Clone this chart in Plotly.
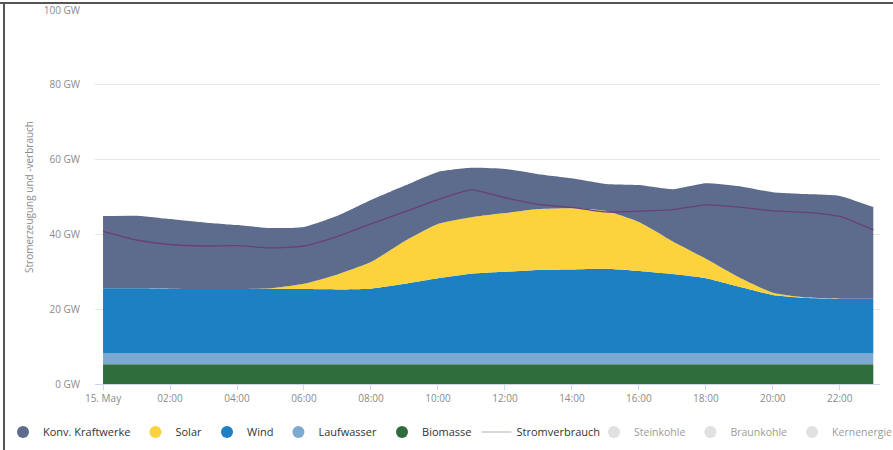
import plotly.graph_objects as go

hours = list(range(24))
tick_vals = [0, 2, 4, 6, 8, 10, 12, 14, 16, 18, 20, 22]
tick_text = ["15. May", "02:00", "04:00", "06:00", "08:00", "10:00",
             "12:00", "14:00", "16:00", "18:00", "20:00", "22:00"]
y_tick_vals = [0, 20, 40, 60, 80, 100]
y_tick_text = ["0 GW", "20 GW", "40 GW", "60 GW", "80 GW", "100 GW"]

biomasse = [5.3, 5.3, 5.3, 5.3, 5.3, 5.3, 5.3, 5.3, 5.3, 5.3, 5.3, 5.3,
            5.3, 5.3, 5.3, 5.3, 5.3, 5.3, 5.3, 5.3, 5.3, 5.3, 5.3, 5.3]
laufwasser = [3.0, 3.0, 3.0, 3.0, 3.0, 3.0, 3.0, 3.0, 3.0, 3.0, 3.0, 3.0,
              3.0, 3.0, 3.0, 3.0, 3.0, 3.0, 3.0, 3.0, 3.0, 3.0, 3.0, 3.0]
wind = [17.3, 17.3, 17.2, 17.1, 17.1, 17.2, 17.1, 17.0, 17.2, 18.5, 20.0, 21.2,
        21.7, 22.2, 22.3, 22.5, 21.9, 21.1, 20.0, 17.7, 15.5, 14.7, 14.5, 14.5]
solar = [0, 0, 0, 0, 0, 0.1, 1.4, 4.0, 7.1, 11.4, 14.5, 15.1,
         15.7, 16.3, 16.4, 15.5, 13.1, 8.8, 5.2, 2.5, 0.6, 0.1, 0, 0]
konv = [19.3, 19.4, 18.6, 17.8, 17.1, 16.1, 15.2, 15.7, 16.6, 14.8, 13.9, 13.2,
        11.8, 9.3, 8.0, 7.2, 9.9, 13.9, 20.2, 24.4, 26.9, 27.7, 27.5, 24.5]
verbrauch = [40.8, 38.5, 37.3, 36.9, 37.0, 36.4, 36.9, 39.5, 42.8, 46.0, 49.3, 51.9,
             49.8, 48.0, 47.2, 46.0, 46.2, 46.6, 47.9, 47.3, 46.3, 45.9, 44.8, 41.2]

series = [
    ("Biomasse", biomasse, "#2f6d3d"),
    ("Laufwasser", laufwasser, "#7ca9d1"),
    ("Wind", wind, "#1d80c3"),
    ("Solar", solar, "#fcd33c"),
    ("Konv. Kraftwerke", konv, "#5d6c8d"),
]
legend_order = ["Konv. Kraftwerke", "Solar", "Wind", "Laufwasser", "Biomasse"]
inactive = ["Steinkohle", "Braunkohle", "Kernenergie"]

FONT = "Open Sans"
fig = go.Figure()

for name, vals, color in series:
    fig.add_trace(go.Scatter(
        x=hours, y=vals, name=name, stackgroup="gen", mode="lines",
        line=dict(width=0, color=color, shape="spline", smoothing=0.5),
        fillcolor=color, showlegend=False, hoverinfo="skip"))

fig.add_trace(go.Scatter(
    x=hours, y=verbrauch, name="Stromverbrauch", mode="lines",
    line=dict(color="#6b3f78", width=1.3, shape="spline", smoothing=0.5),
    showlegend=False))

colors = {n: c for n, _, c in series}
for i, name in enumerate(legend_order):
    fig.add_trace(go.Scatter(
        x=[None], y=[None], name=name, mode="markers",
        marker=dict(symbol="circle", size=12, color=colors[name]),
        legendrank=i + 1, legend="legend"))
fig.add_trace(go.Scatter(
    x=[None], y=[None], name="Stromverbrauch", mode="lines",
    line=dict(color="#b9aac0", width=1.2), legendrank=6, legend="legend"))
for i, name in enumerate(inactive):
    fig.add_trace(go.Scatter(
        x=[None], y=[None], name=name, mode="markers",
        marker=dict(symbol="circle", size=12, color="#c4c4c4"),
        visible="legendonly", legendrank=7 + i, legend="legend2"))

L, R, T, B = 95, 13, 10, 66
W, H = 893, 450
pw, ph = W - L - R, H - T - B


def px(x):
    return (x - L) / pw


def py(y):
    return (H - B - y) / ph


legend_common = dict(orientation="h", xanchor="left", yanchor="middle", y=py(432),
                     itemwidth=30, traceorder="normal", bgcolor="rgba(0,0,0,0)")

fig.update_layout(
    width=W, height=H,
    margin=dict(l=L, r=R, t=T, b=B, pad=0, autoexpand=False),
    paper_bgcolor="white", plot_bgcolor="white",
    font=dict(family=FONT, size=11, color="#333333"),
    showlegend=True,
    legend=dict(x=px(3), font=dict(family=FONT, size=11, color="#333333"), **legend_common),
    legend2=dict(x=px(594), font=dict(family=FONT, size=10.5, color="#333333"), **legend_common),
    xaxis=dict(range=[-0.24, 23.2], tickmode="array", tickvals=tick_vals, ticktext=tick_text,
               showgrid=False, zeroline=False, showline=True, linecolor="#ccd6eb", linewidth=1,
               ticks="outside", ticklen=5, tickcolor="#ccd6eb", automargin=False,
               tickfont=dict(family=FONT, size=10, color="#8a8a8a")),
    yaxis=dict(range=[0, 100], tickmode="array", tickvals=y_tick_vals, ticktext=y_tick_text,
               showgrid=True, gridcolor="#e6e6e6", gridwidth=1, automargin=False,
               zeroline=False, showline=False, ticklabelstandoff=14,
               tickfont=dict(family=FONT, size=10, color="#8a8a8a"),
               title=dict(text="Stromerzeugung und -verbrauch", standoff=8,
                          font=dict(family=FONT, size=10, color="#8a8a8a"))),
    shapes=[
        dict(type="line", xref="paper", yref="paper", x0=px(0), x1=px(900), y0=py(3), y1=py(3),
             line=dict(color="#555555", width=2)),
        dict(type="line", xref="paper", yref="paper", x0=px(4), x1=px(4), y0=py(3), y1=py(455),
             line=dict(color="#555555", width=2)),
    ],
)

fig.write_html("out.html", config={"displayModeBar": False},
               post_script="document.body.style.margin='0px';")
